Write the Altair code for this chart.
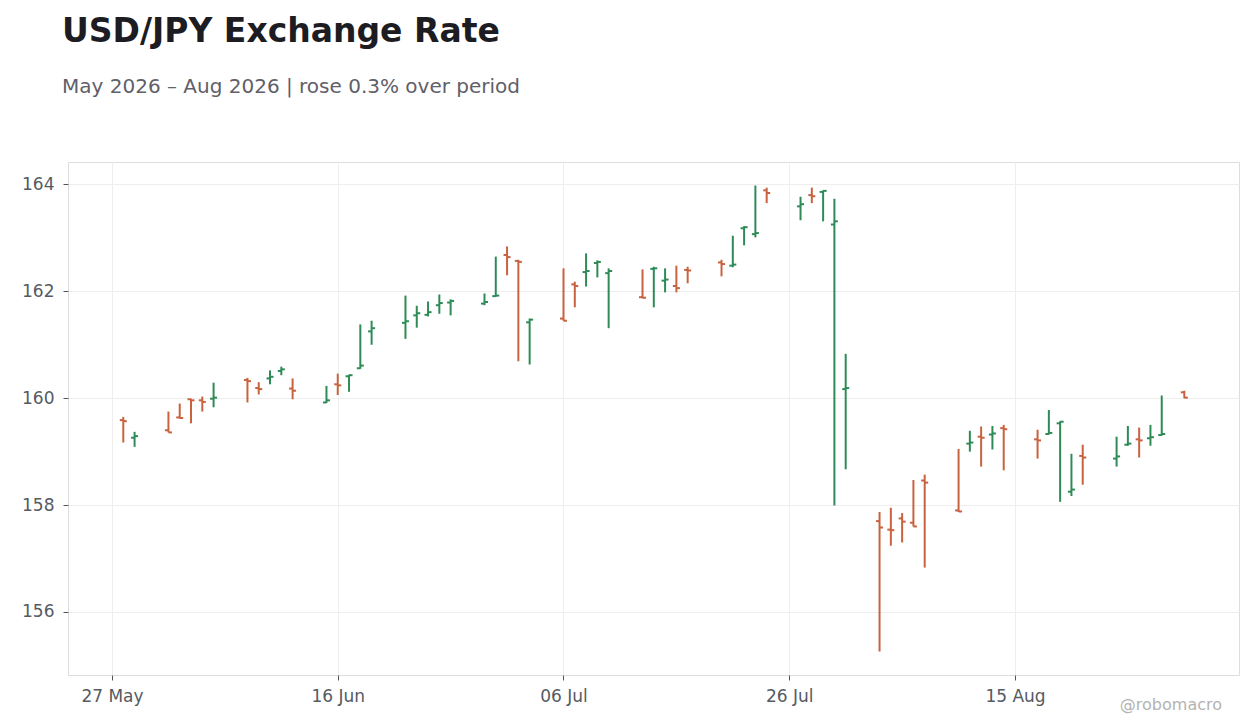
import altair as alt
import pandas as pd

dates = [
    "2026-05-28", "2026-05-29",
    "2026-06-01", "2026-06-02", "2026-06-03", "2026-06-04", "2026-06-05",
    "2026-06-08", "2026-06-09", "2026-06-10", "2026-06-11", "2026-06-12",
    "2026-06-15", "2026-06-16", "2026-06-17", "2026-06-18", "2026-06-19",
    "2026-06-22", "2026-06-23", "2026-06-24", "2026-06-25", "2026-06-26",
    "2026-06-29", "2026-06-30", "2026-07-01", "2026-07-02", "2026-07-03",
    "2026-07-06", "2026-07-07", "2026-07-08", "2026-07-09", "2026-07-10",
    "2026-07-13", "2026-07-14", "2026-07-15", "2026-07-16", "2026-07-17",
    "2026-07-20", "2026-07-21", "2026-07-22", "2026-07-23", "2026-07-24",
    "2026-07-27", "2026-07-28", "2026-07-29", "2026-07-30", "2026-07-31",
    "2026-08-03", "2026-08-04", "2026-08-05", "2026-08-06", "2026-08-07",
    "2026-08-10", "2026-08-11", "2026-08-12", "2026-08-13", "2026-08-14",
    "2026-08-17", "2026-08-18", "2026-08-19", "2026-08-20", "2026-08-21",
    "2026-08-24", "2026-08-25", "2026-08-26", "2026-08-27", "2026-08-28",
    "2026-08-30",
]
opens = [
    159.59, 159.26,
    159.40, 159.64, 159.98, 159.96, 159.99,
    160.34, 160.19, 160.37, 160.51, 160.18,
    159.92, 160.26, 160.41, 160.56, 161.25,
    161.41, 161.55, 161.56, 161.74, 161.79,
    161.77, 161.91, 162.68, 162.57, 161.42,
    161.49, 162.13, 162.36, 162.53, 162.34,
    161.89, 162.42, 162.20, 162.10, 162.40,
    162.54, 162.48, 163.18, 163.07, 163.89,
    163.59, 163.80, 163.86, 163.25, 160.17,
    157.70, 157.54, 157.75, 157.67, 158.46,
    157.90, 159.15, 159.28, 159.32, 159.44,
    159.23, 159.33, 159.53, 158.25, 158.92,
    158.87, 159.13, 159.23, 159.25, 159.31,
    160.11,
]
highs = [
    159.65, 159.37,
    159.75, 159.90, 159.99, 160.03, 160.29,
    160.38, 160.30, 160.52, 160.59, 160.37,
    160.23, 160.46, 160.44, 161.38, 161.45,
    161.92, 161.73, 161.81, 161.94, 161.85,
    161.96, 162.65, 162.84, 162.59, 161.49,
    162.43, 162.18, 162.71, 162.58, 162.43,
    162.41, 162.46, 162.43, 162.48, 162.46,
    162.59, 163.04, 163.22, 163.98, 163.94,
    163.77, 163.94, 163.89, 163.73, 160.83,
    157.87, 157.95, 157.85, 158.47, 158.57,
    159.05, 159.39, 159.47, 159.48, 159.50,
    159.41, 159.78, 159.57, 158.96, 159.13,
    159.28, 159.48, 159.45, 159.50, 160.05,
    160.14,
]
lows = [
    159.17, 159.09,
    159.36, 159.62, 159.53, 159.75, 159.83,
    159.92, 160.07, 160.26, 160.43, 159.98,
    159.91, 160.06, 160.12, 160.55, 161.00,
    161.11, 161.32, 161.53, 161.58, 161.55,
    161.74, 161.90, 162.30, 160.69, 160.63,
    161.45, 161.70, 162.09, 162.26, 161.31,
    161.87, 161.70, 161.98, 161.98, 162.15,
    162.28, 162.45, 162.86, 163.01, 163.65,
    163.33, 163.65, 163.31, 157.99, 158.67,
    155.26, 157.24, 157.30, 157.60, 156.83,
    157.87, 159.00, 158.72, 159.04, 158.65,
    158.87, 159.32, 158.06, 158.17, 158.38,
    158.72, 159.11, 158.89, 159.11, 159.30,
    160.00,
]
closes = [
    159.57, 159.29,
    159.36, 159.63, 159.96, 159.93, 160.01,
    160.32, 160.17, 160.40, 160.54, 160.14,
    159.96, 160.24, 160.43, 160.61, 161.31,
    161.44, 161.59, 161.61, 161.78, 161.82,
    161.80, 161.92, 162.64, 162.55, 161.47,
    161.45, 162.10, 162.38, 162.55, 162.38,
    161.88, 162.43, 162.22, 162.06, 162.39,
    162.51, 162.50, 163.20, 163.09, 163.84,
    163.63, 163.78, 163.88, 163.31, 160.19,
    157.58, 157.53, 157.69, 157.60, 158.42,
    157.88, 159.17, 159.26, 159.34, 159.42,
    159.21, 159.35, 159.56, 158.29, 158.89,
    158.91, 159.15, 159.21, 159.27, 159.33,
    160.01,
]

x_ticks = ["2026-05-27", "2026-06-16", "2026-07-06", "2026-07-26", "2026-08-15"]
y_ticks = [156, 158, 160, 162, 164]

GREEN = "#2e8b57"
RED = "#c8623f"
FONT = "DejaVu Sans"

df = pd.DataFrame({
    "date": [d + "T00:00:00" for d in dates],
    "open": opens,
    "high": highs,
    "low": lows,
    "close": closes,
})
df["dir"] = ["up" if c >= o else "down" for o, c in zip(opens, closes)]


def dt(s, h=0, m=0):
    y, mo, d = (int(p) for p in s.split("-"))
    return alt.DateTime(year=y, month=mo, date=d, hours=h, minutes=m)


x_scale = alt.Scale(domain=[dt("2026-05-23", 2, 27), dt("2026-09-03", 20, 17)])
y_scale = alt.Scale(domain=[154.82, 164.42], zero=False, nice=False)
color = alt.Color(
    "dir:N",
    scale=alt.Scale(domain=["up", "down"], range=[GREEN, RED]),
    legend=None,
)

base = alt.Chart(df)

x_enc = alt.X(
    "date:T",
    scale=x_scale,
    title=None,
    axis=alt.Axis(values=[dt(t) for t in x_ticks], format="%d %b", labelPadding=8),
)

hl = base.mark_rule(strokeWidth=2).encode(
    x=x_enc,
    y=alt.Y(
        "low:Q",
        scale=y_scale,
        title=None,
        axis=alt.Axis(values=y_ticks, format="d", labelPadding=9),
    ),
    y2="high:Q",
    color=color,
)

op = base.mark_rule(strokeWidth=2, xOffset=-3.5, x2Offset=0).encode(
    x="date:T", x2="date:T", y="open:Q", color=color
)
cl = base.mark_rule(strokeWidth=2, xOffset=0, x2Offset=3.5).encode(
    x="date:T", x2="date:T", y="close:Q", color=color
)

wm = alt.Chart(pd.DataFrame({"t": ["@robomacro"]})).mark_text(
    align="right", baseline="alphabetic", font=FONT, fontSize=16, color="#b3b3b3"
).encode(text="t:N", x=alt.value(1154), y=alt.value(548))

chart = alt.layer(hl, op, cl, wm).properties(
    width=1171,
    height=513,
    autosize="none",
    padding={"left": 60, "top": 154, "right": 9, "bottom": 42},
    title=alt.TitleParams(
        text="USD/JPY Exchange Rate",
        subtitle="May 2026 – Aug 2026 | rose 0.3% over period",
        anchor="start",
        frame="group",
        dx=-6,
        offset=65,
        font=FONT,
        fontSize=33,
        fontWeight="bold",
        color="#1c1c22",
        subtitleFont=FONT,
        subtitleFontSize=20,
        subtitleColor="#5f6068",
        subtitlePadding=28,
    ),
).configure_view(
    stroke="#dddddd"
).configure_axis(
    domain=False,
    grid=True,
    gridColor="#eeeeee",
    tickColor="#555555",
    tickSize=5,
    labelFont=FONT,
    labelFontSize=17,
    labelColor="#555a63",
)

chart.save("out.html", embed_options={"renderer": "svg", "actions": False})
